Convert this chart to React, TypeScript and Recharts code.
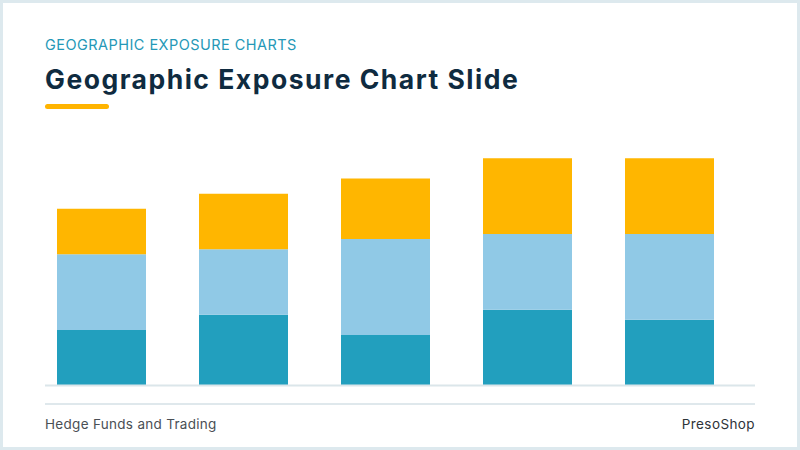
import React from 'react';
import { BarChart, Bar, XAxis, YAxis } from 'recharts';

const categories = ['A', 'B', 'C', 'D', 'E'];
const baseValues = [11, 14, 10, 15, 13];
const midValues = [15, 13, 19, 15, 17];
const topValues = [9, 11, 12, 15, 15];

const data = categories.map((name, i) => ({
  name,
  base: baseValues[i],
  mid: midValues[i],
  top: topValues[i],
}));

const FONT = 'Inter, "Noto Sans", sans-serif';

export default function App() {
  return (
    <div
      style={{
        position: 'relative',
        width: 800,
        height: 450,
        background: '#fff',
        boxShadow: 'inset 0 0 0 3px #dde9ee',
        fontFamily: FONT,
        overflow: 'hidden',
      }}
    >
      <style>{`body{margin:0}`}</style>
      <div
        style={{
          position: 'absolute',
          left: 45,
          top: 36,
          fontSize: 14.5,
          color: '#2598b7',
          lineHeight: '18px',
          letterSpacing: 0.46,
        }}
      >
        GEOGRAPHIC EXPOSURE CHARTS
      </div>
      <div
        style={{
          position: 'absolute',
          left: 45,
          top: 63,
          fontSize: 26.5,
          fontWeight: 700,
          color: '#0f2b40',
          lineHeight: '32px',
          letterSpacing: 1.5,
        }}
      >
        Geographic Exposure Chart Slide
      </div>
      <div
        style={{
          position: 'absolute',
          left: 45,
          top: 104,
          width: 64,
          height: 5,
          borderRadius: 3,
          background: '#ffb400',
        }}
      />

      <div style={{ position: 'absolute', left: 45, top: 150 }}>
        <BarChart
          width={710}
          height={240}
          data={data}
          margin={{ top: 8.3, right: 0, bottom: 3.5, left: 0 }}
        >
          <XAxis
            dataKey="name"
            height={1}
            tick={false}
            tickLine={false}
            padding={{ left: -15, right: 15 }}
            axisLine={{ stroke: '#dbe6ea', strokeWidth: 2 }}
          />
          <YAxis hide domain={[0, 45]} />
          <Bar dataKey="base" stackId="s" fill="#229fbe" barSize={89} isAnimationActive={false} />
          <Bar dataKey="mid" stackId="s" fill="#90c9e6" barSize={89} isAnimationActive={false} />
          <Bar dataKey="top" stackId="s" fill="#ffb600" barSize={89} isAnimationActive={false} />
        </BarChart>
      </div>

      <div
        style={{
          position: 'absolute',
          left: 45,
          top: 403,
          width: 710,
          height: 2,
          background: '#dfe8ec',
        }}
      />
      <div
        style={{
          position: 'absolute',
          left: 45,
          top: 415,
          fontSize: 13.5,
          color: '#4a4f55',
          lineHeight: '18px',
          letterSpacing: 0.3,
        }}
      >
        Hedge Funds and Trading
      </div>
      <div
        style={{
          position: 'absolute',
          right: 45,
          top: 415,
          fontSize: 13.5,
          color: '#2e3338',
          lineHeight: '18px',
          letterSpacing: 0.4,
        }}
      >
        PresoShop
      </div>
    </div>
  );
}
